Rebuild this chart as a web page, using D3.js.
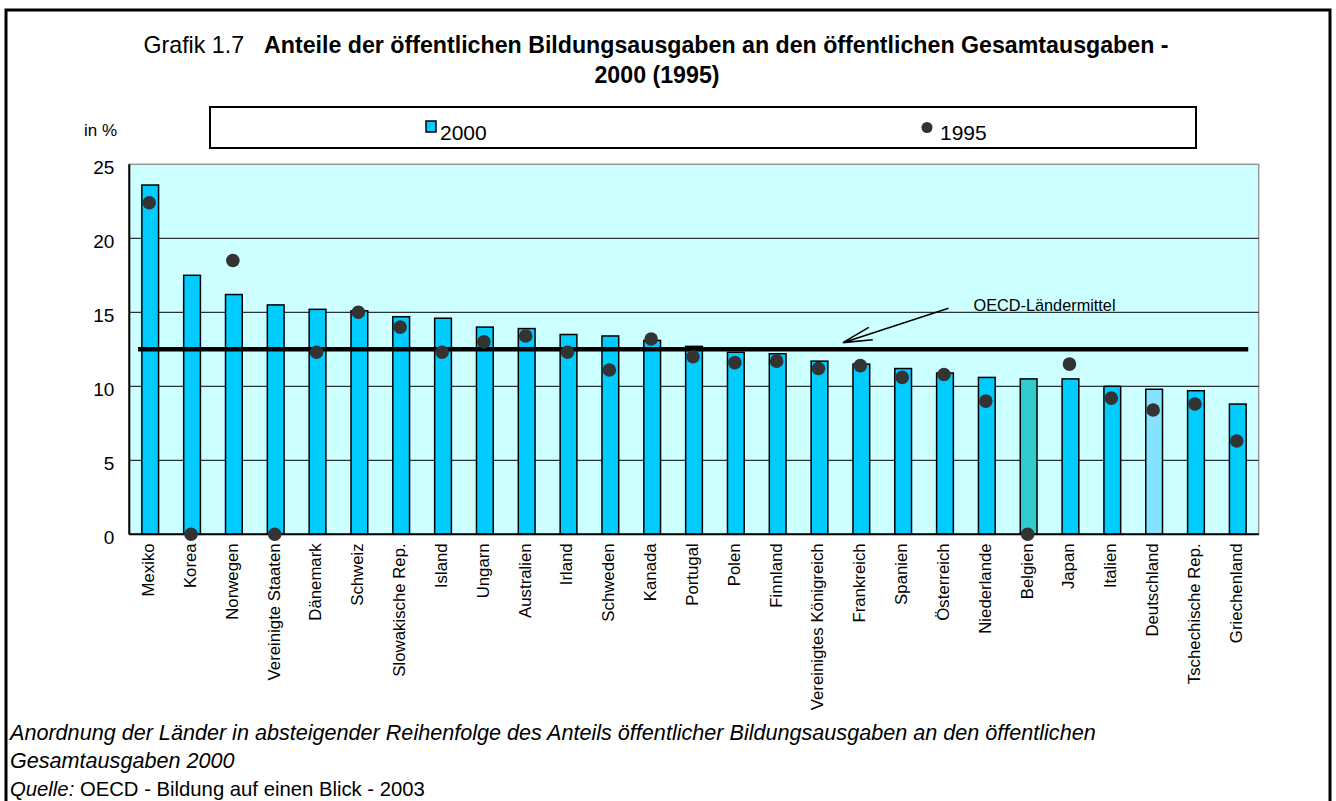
<!DOCTYPE html>
<html>
<head>
<meta charset="utf-8">
<script src="https://cdn.jsdelivr.net/npm/d3@7"></script>
<style>
  html, body { margin: 0; padding: 0; background: #fff; }
  svg { display: block; font-family: 'Liberation Sans', Arial, sans-serif; }
</style>
</head>
<body>
<svg id="chart" width="1336" height="801"></svg>
<script>
// Anteile der öffentlichen Bildungsausgaben, 2000 (Balken) und 1995 (Punkte)
const countries = [
  'Mexiko', 'Korea', 'Norwegen', 'Vereinigte Staaten', 'Dänemark', 'Schweiz',
  'Slowakische Rep.', 'Island', 'Ungarn', 'Australien', 'Irland', 'Schweden',
  'Kanada', 'Portugal', 'Polen', 'Finnland', 'Vereinigtes Königreich',
  'Frankreich', 'Spanien', 'Österreich', 'Niederlande', 'Belgien', 'Japan',
  'Italien', 'Deutschland', 'Tschechische Rep.', 'Griechenland',
];
const share_2000 = [
  23.6, 17.5, 16.2, 15.5, 15.2, 15.1, 14.7, 14.6, 14.0, 13.9, 13.5, 13.4,
  13.1, 12.7, 12.3, 12.2, 11.7, 11.5, 11.2, 10.9, 10.6, 10.5, 10.5, 10.0,
  9.8, 9.7, 8.8,
];
const share_1995 = [
  22.4, 0, 18.5, 0, 12.3, 15.0, 14.0, 12.3, 13.0, 13.4, 12.3, 11.1,
  13.2, 12.0, 11.6, 11.7, 11.2, 11.4, 10.6, 10.8, 9.0, 0, 11.5, 9.2,
  8.4, 8.8, 6.3,
];
const oecd_mean = 12.5;
const y_ticks = [0, 5, 10, 15, 20, 25];

const rows = countries.map((country, i) => ({
  country,
  v2000: share_2000[i],
  v1995: share_1995[i],
}));

const svg = d3.select('#chart');
const margin = { left: 129.3, right: 1258.7, top: 164.3, bottom: 534.3 };

const x = d3
  .scaleBand()
  .domain(countries)
  .range([margin.left, margin.right])
  .paddingInner(0.6)
  .paddingOuter(0.3);
const y = d3.scaleLinear().domain([0, 25]).range([margin.bottom, margin.top]);
const cx = (d) => x(d) + x.bandwidth() / 2;
const step = x.step();

const bar_color = (d) =>
  d.country === 'Belgien'
    ? '#33CCCC'
    : d.country === 'Deutschland'
    ? '#84E4FF'
    : '#00CCFF';

// outer frame (open at the bottom)
svg
  .append('path')
  .attr('d', 'M6,820 L6,10 L1330,10 L1330,820')
  .attr('fill', 'none')
  .attr('stroke', '#000')
  .attr('stroke-width', 3);

// title
const title = svg
  .append('text')
  .attr('x', 656)
  .attr('y', 53)
  .attr('text-anchor', 'middle')
  .attr('font-size', 23.2);
title.append('tspan').text('Grafik 1.7');
title
  .append('tspan')
  .attr('dx', 20)
  .attr('font-weight', 'bold')
  .text('Anteile der öffentlichen Bildungsausgaben an den öffentlichen Gesamtausgaben -');
svg
  .append('text')
  .attr('x', 657)
  .attr('y', 83)
  .attr('text-anchor', 'middle')
  .attr('font-size', 23.2)
  .attr('font-weight', 'bold')
  .text('2000 (1995)');

// legend
svg
  .append('text')
  .attr('x', 84)
  .attr('y', 135.5)
  .attr('font-size', 17)
  .text('in %');
svg
  .append('rect')
  .attr('x', 210)
  .attr('y', 107)
  .attr('width', 986)
  .attr('height', 41)
  .attr('fill', '#fff')
  .attr('stroke', '#000')
  .attr('stroke-width', 2);
svg
  .append('rect')
  .attr('x', 426)
  .attr('y', 121)
  .attr('width', 10)
  .attr('height', 11)
  .attr('fill', '#00CCFF')
  .attr('stroke', '#000')
  .attr('stroke-width', 1.5);
svg
  .append('text')
  .attr('x', 440)
  .attr('y', 140)
  .attr('font-size', 21)
  .text('2000');
svg
  .append('circle')
  .attr('cx', 927)
  .attr('cy', 127.5)
  .attr('r', 5.5)
  .attr('fill', '#333');
svg
  .append('text')
  .attr('x', 940)
  .attr('y', 140)
  .attr('font-size', 21)
  .text('1995');

// plot area
svg
  .append('rect')
  .attr('x', margin.left)
  .attr('y', margin.top)
  .attr('width', margin.right - margin.left)
  .attr('height', margin.bottom - margin.top)
  .attr('fill', '#CCFFFF')
  .attr('stroke', '#999')
  .attr('stroke-width', 1.5);

svg
  .append('g')
  .selectAll('line')
  .data(y_ticks.filter((t) => t > 0 && t < 25))
  .join('line')
  .attr('x1', margin.left)
  .attr('x2', margin.right)
  .attr('y1', (d) => y(d))
  .attr('y2', (d) => y(d))
  .attr('stroke', '#000')
  .attr('stroke-width', 1);

// y axis
const y_axis = svg
  .append('g')
  .attr('transform', `translate(${margin.left},0)`)
  .call(d3.axisLeft(y).tickValues(y_ticks).tickSize(0).tickPadding(15));
y_axis.select('.domain').remove();
y_axis
  .selectAll('text')
  .attr('font-size', 19)
  .attr('font-family', 'Liberation Sans, Arial, sans-serif')
  .attr('fill', '#000')
  .attr('dy', '0.5em');

// bars 2000
svg
  .append('g')
  .selectAll('rect')
  .data(rows)
  .join('rect')
  .attr('x', (d) => x(d.country))
  .attr('y', (d) => y(d.v2000))
  .attr('width', x.bandwidth())
  .attr('height', (d) => y(0) - y(d.v2000))
  .attr('fill', bar_color)
  .attr('stroke', '#000')
  .attr('stroke-width', 1.5);

// axis lines
svg
  .append('line')
  .attr('x1', margin.left)
  .attr('x2', margin.left)
  .attr('y1', margin.top)
  .attr('y2', margin.bottom)
  .attr('stroke', '#000')
  .attr('stroke-width', 2);
svg
  .append('line')
  .attr('x1', margin.left)
  .attr('x2', margin.right)
  .attr('y1', margin.bottom)
  .attr('y2', margin.bottom)
  .attr('stroke', '#000')
  .attr('stroke-width', 2);

// OECD mean line
svg
  .append('line')
  .attr('x1', x(countries[0]) - step * 0.09)
  .attr('x2', x(countries[countries.length - 1]) + x.bandwidth() + step * 0.05)
  .attr('y1', y(oecd_mean))
  .attr('y2', y(oecd_mean))
  .attr('stroke', '#000')
  .attr('stroke-width', 4.5);

// annotation arrow
const tip = [cx('Frankreich') - 18.4, y(12.95)];
const tail = [cx('Österreich') + 3.5, y(15.27)];
const ang = Math.atan2(tail[1] - tip[1], tail[0] - tip[0]);
const head = 30;
const arm = (a) => [tip[0] + head * Math.cos(ang + a), tip[1] + head * Math.sin(ang + a)];
svg
  .append('path')
  .attr(
    'd',
    `M${tail[0]},${tail[1]} L${tip[0]},${tip[1]} M${arm(-0.22).join(',')} L${tip[0]},${tip[1]} L${arm(0.22).join(',')}`
  )
  .attr('fill', 'none')
  .attr('stroke', '#000')
  .attr('stroke-width', 1.6);
svg
  .append('text')
  .attr('x', cx('Österreich') + 28.5)
  .attr('y', y(15) - 1)
  .attr('font-size', 16.3)
  .text('OECD-Ländermittel');

// dots 1995
svg
  .append('g')
  .selectAll('circle')
  .data(rows)
  .join('circle')
  .attr('cx', (d) => cx(d.country) - 1)
  .attr('cy', (d) => y(d.v1995))
  .attr('r', 6.8)
  .attr('fill', '#333');

// x labels
svg
  .append('g')
  .selectAll('text')
  .data(countries)
  .join('text')
  .attr('transform', (d) => `translate(${cx(d) - 2},${margin.bottom + 9}) rotate(-90)`)
  .attr('text-anchor', 'end')
  .attr('dy', '0.35em')
  .attr('font-size', 16.8)
  .text((d) => d);

// footer
const foot = svg.append('g').attr('font-size', 21.6);
foot
  .append('text')
  .attr('x', 10)
  .attr('y', 740)
  .attr('font-style', 'italic')
  .text(
    'Anordnung der Länder in absteigender Reihenfolge des Anteils öffentlicher Bildungsausgaben an den öffentlichen'
  );
foot
  .append('text')
  .attr('x', 10)
  .attr('y', 768)
  .attr('font-style', 'italic')
  .text('Gesamtausgaben 2000');
const src = foot.append('text').attr('x', 10).attr('y', 796).attr('font-size', 20.3);
src.append('tspan').attr('font-style', 'italic').text('Quelle:');
src.append('tspan').text(' OECD - Bildung auf einen Blick - 2003');
</script>
</body>
</html>
